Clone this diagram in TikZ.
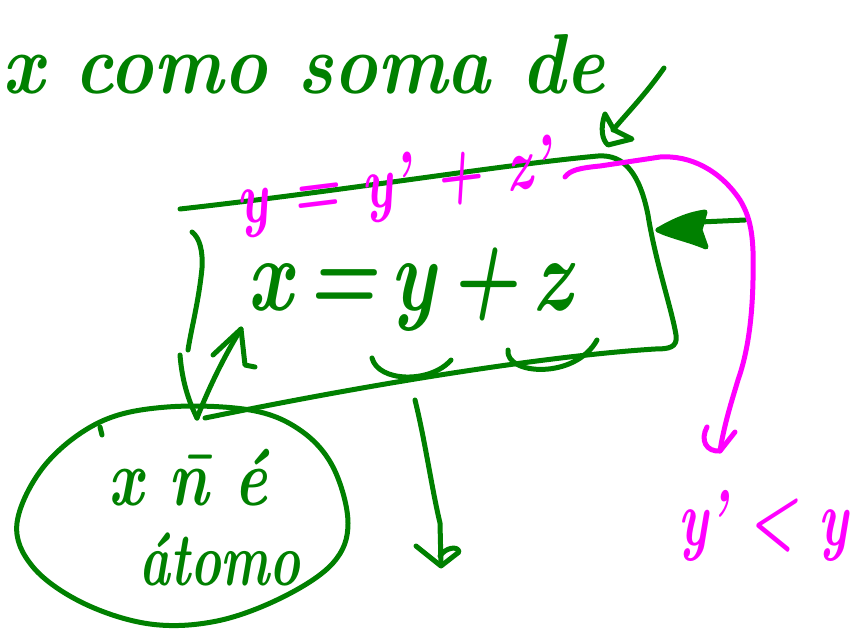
\documentclass[tikz,border=0pt]{standalone}
\usepackage{fontspec}
\usepackage{graphicx}
\setmainfont{Latin Modern Roman}
\definecolor{pg}{RGB}{0,128,0}
\definecolor{pm}{RGB}{255,0,255}
\tikzset{
  gpen/.style={draw=pg, line width=5pt, line cap=round, line join=round},
  mpen/.style={draw=pm, line width=5pt, line cap=round, line join=round},
  gtext/.style={text=pg, inner sep=0pt, font=\bfseries\itshape},
  mtext/.style={text=pm, inner sep=0pt, font=\bfseries\itshape},
}
\newcommand{\fsz}[1]{\fontsize{#1}{#1}\selectfont}
\begin{document}
\begin{tikzpicture}[x=1pt,y=-1pt]
\useasboundingbox (0,0) rectangle (859,629);
\clip (0,0) rectangle (859,629);

% box
\draw[gpen] (180,209) .. controls (350,190) and (500,165) .. (598,156)
  .. controls (625,154) and (640,175) .. (648,215)
  .. controls (655,260) and (672,310) .. (676,335)
  .. controls (678,348) and (668,349) .. (655,349)
  .. controls (560,355) and (400,378) .. (205,418);
\draw[gpen] (192,232) .. controls (200,238) and (203,252) .. (202,268)
  .. controls (199,300) and (191,330) .. (188,350);

% arrows between box and ellipse
\coordinate (meet) at (197,418);
\draw[gpen] (180,355) .. controls (182,380) and (188,400) .. (meet);
\coordinate (uptip) at (241,329);
\draw[gpen] (meet) .. controls (210,385) and (225,355) .. (uptip);
\draw[gpen] (213,355) -- (uptip) -- (245,365) -- (255,367);

% underbraces
\draw[gpen] (372,358) .. controls (378,382) and (430,384) .. (451,360);
\draw[gpen] (508,350) .. controls (505,375) and (575,380) .. (597,340);

% middle down arrow
\coordinate (dtip) at (441,566);
\draw[gpen] (415,400) .. controls (425,440) and (432,490) .. (440,523) -- (dtip);
\draw[gpen] (416,546) -- (dtip) -- (459,552) .. controls (458,545) and (445,548) .. (440,556);

% ellipse
\draw[gpen] plot[smooth cycle, tension=0.6] coordinates {(100,422) (167,407) (250,410) (300,430) (333,467) (348,523) (333,563) (283,597) (217,621) (150,624) (83,603) (33,567) (17,523) (45,465)};
\draw[gpen] (100,427) -- (102,435);

% top-right arrow
\coordinate (trtip) at (608,145);
\draw[gpen] (664,68) .. controls (645,95) and (628,112) .. (613,130);
\draw[gpen] (605,114) .. controls (600,128) and (602,140) .. (trtip) -- (632,139) -- (614,130) -- (605,114);

% left-pointing arrow
\coordinate (ltip) at (658,230);
\draw[gpen] (745,220) -- (700,222) -- (ltip);
\filldraw[gpen, fill=pg] (ltip) .. controls (675,220) and (690,214) .. (705,212) -- (700,230) -- (706,247) .. controls (690,240) and (670,236) .. (ltip) -- cycle;

% magenta curve arrow
\coordinate (mtip) at (720,451);
\draw[mpen] (565,177) .. controls (570,170) and (580,168) .. (600,166) -- (660,157)
  .. controls (690,155) and (720,170) .. (740,200)
  .. controls (752,220) and (754,240) .. (753,280)
  .. controls (752,330) and (745,360) .. (738,380)
  .. controls (732,400) and (724,425) .. (mtip);
\draw[mpen] (707,427) .. controls (700,440) and (706,452) .. (mtip) -- (735,432);

% title
\node[gtext, anchor=base west] (title) at (2,93) {\scalebox{1}[1.15]{\fsz{74}x como soma de}};

% magenta equation
\node[mtext, rotate=7, anchor=base] (meq) at (397,205) {\scalebox{1}[1.35]{\fsz{55}y = y’ + z’}};

% green equation
\node[gtext, anchor=base] (geq) at (410,310) {\scalebox{1}[1.3]{\fsz{80}x\,=\,y\,+\,z}};

% ellipse texts
\node[gtext, anchor=base] (t1) at (188,505) {\scalebox{1}[1.3]{\fsz{62}x \=n é}};
\node[gtext, anchor=base] (t2) at (220,585) {\scalebox{1}[1.45]{\fsz{52}átomo}};

% y' < y
\node[mtext, anchor=base west] (ineq) at (678,545) {\scalebox{1}[1.5]{\fsz{53}y’ < y}};
\end{tikzpicture}
\end{document}
